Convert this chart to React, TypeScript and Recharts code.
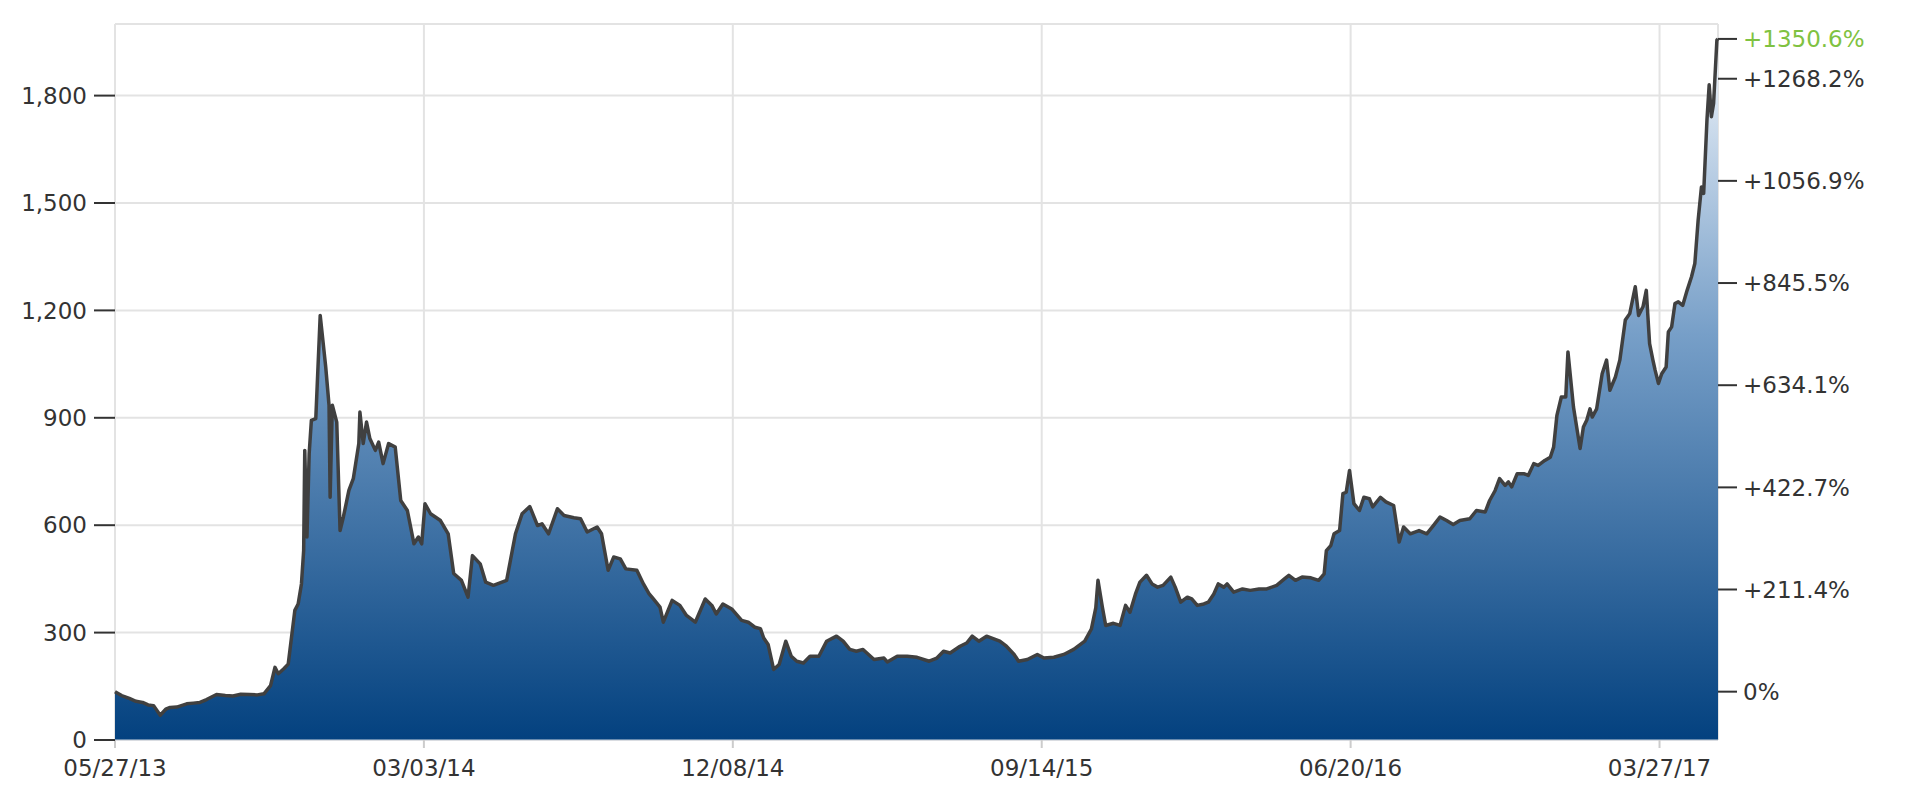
import React from "react";
import { ComposedChart, Area, Line, XAxis, YAxis, CartesianGrid } from "recharts";

const xTickDays = [0, 280, 560, 840, 1120, 1400];
const xTickLabels = ["05/27/13", "03/03/14", "12/08/14", "09/14/15", "06/20/16", "03/27/17"];
const priceTicks = [0, 300, 600, 900, 1200, 1500, 1800];
const pctTicks = [0, 211.4, 422.7, 634.1, 845.5, 1056.9, 1268.2, 1350.6];
const priceMax = 2000;
const lastDay = 1453;

const dayOffsets = [
  0, 6, 13, 19, 25, 30, 35, 41, 46, 50,
  56, 65, 71, 77, 83, 92, 100, 107, 114, 122,
  129, 135, 141, 145, 148, 153, 157, 160, 163, 166,
  169, 171, 172, 174, 176, 178, 182, 186, 191, 194,
  195, 197, 201, 204, 207, 212, 216, 221, 222, 225,
  228, 231, 236, 239, 243, 248, 254, 259, 265, 271,
  275, 278, 281, 286, 295, 302, 307, 314, 320, 324,
  331, 336, 343, 355, 363, 369, 376, 383, 387, 393,
  401, 407, 416, 422, 428, 437, 441, 447, 452, 458,
  463, 473, 479, 484, 488, 494, 497, 505, 512, 518,
  526, 535, 541, 545, 551, 559, 568, 574, 580, 585,
  588, 592, 597, 602, 608, 613, 618, 624, 630, 638,
  645, 654, 660, 666, 672, 678, 688, 697, 700, 709,
  718, 727, 738, 745, 751, 757, 766, 772, 777, 783,
  790, 796, 802, 808, 815, 819, 827, 836, 842, 851,
  860, 869, 879, 885, 889, 891, 895, 898, 905, 911,
  916, 920, 925, 929, 935, 940, 945, 950, 957, 961,
  966, 972, 976, 981, 987, 991, 996, 1000, 1005, 1008,
  1014, 1022, 1029, 1037, 1044, 1053, 1060, 1064, 1070, 1076,
  1084, 1091, 1096, 1098, 1102, 1105, 1110, 1113, 1116, 1119,
  1123, 1128, 1132, 1137, 1140, 1147, 1152, 1159, 1164, 1168,
  1174, 1182, 1189, 1195, 1201, 1207, 1213, 1219, 1228, 1234,
  1242, 1246, 1251, 1255, 1260, 1263, 1266, 1271, 1277, 1281,
  1286, 1290, 1296, 1301, 1304, 1307, 1311, 1315, 1317, 1322,
  1328, 1331, 1334, 1337, 1339, 1343, 1348, 1352, 1355, 1360,
  1364, 1369, 1373, 1378, 1381, 1385, 1388, 1391, 1394, 1396,
  1399, 1402, 1406, 1408, 1411, 1414, 1417, 1421, 1425, 1429,
  1432, 1435, 1438, 1440, 1443, 1445, 1447, 1449, 1452, 1453,
];

const closePrices = [
  135, 124, 116, 108, 105, 98, 96, 69, 86, 91,
  92, 101, 103, 105, 113, 127, 124, 123, 128, 127,
  126, 129, 152, 203, 185, 199, 212, 287, 362, 380,
  436, 529, 809, 567, 800, 893, 898, 1186, 1042, 935,
  678, 935, 888, 585, 623, 697, 730, 828, 916, 828,
  888, 842, 809, 832, 772, 828, 818, 669, 641, 548,
  567, 548, 660, 632, 613, 576, 465, 446, 399, 515,
  492, 441, 432, 446, 576, 632, 652, 599, 604, 576,
  646, 627, 621, 618, 581, 595, 576, 474, 511, 506,
  478, 474, 436, 409, 394, 371, 329, 390, 376, 348,
  329, 394, 376, 352, 380, 366, 334, 329, 315, 311,
  285, 267, 197, 211, 276, 234, 220, 215, 234, 234,
  276, 290, 276, 253, 248, 253, 225, 229, 218, 234,
  234, 231, 220, 229, 248, 243, 262, 271, 290, 276,
  290, 283, 276, 262, 239, 220, 225, 239, 229, 231,
  239, 253, 276, 310, 369, 446, 371, 320, 326, 320,
  376, 357, 408, 441, 460, 436, 427, 432, 455, 427,
  385, 399, 394, 376, 380, 385, 408, 436, 427, 436,
  413, 422, 418, 422, 422, 432, 450, 460, 446, 455,
  453, 446, 464, 529, 543, 576, 585, 688, 692, 753,
  660, 641, 678, 674, 651, 678, 665, 655, 553, 595,
  576, 585, 576, 599, 623, 613, 602, 613, 618, 641,
  637, 669, 697, 730, 711, 721, 707, 744, 744, 739,
  772, 767, 781, 790, 818, 907, 958, 958, 1084, 930,
  814, 874, 893, 925, 902, 925, 1023, 1061, 977, 1014,
  1061, 1173, 1191, 1266, 1186, 1210, 1256, 1107, 1061, 1033,
  996, 1023, 1042, 1140, 1154, 1219, 1224, 1214, 1256, 1294,
  1331, 1452, 1545, 1527, 1732, 1830, 1741, 1778, 1955, 1958,
];

const basePrice = closePrices[0];
const data = dayOffsets.map((d, i) => ({
  day: d,
  price: closePrices[i],
  pct: (closePrices[i] / basePrice - 1) * 100,
}));
const pctDomain: [number, number] = [-100, (priceMax / basePrice - 1) * 100];

const FONT = "'DejaVu Sans', Verdana, sans-serif";
const TEXT = "#333333";

function PctTick(props: any) {
  const { x, y, payload } = props;
  const v = payload.value as number;
  const isLast = v === pctTicks[pctTicks.length - 1];
  return (
    <text
      x={x}
      y={y}
      dy="0.355em"
      textAnchor="start"
      fontFamily={FONT}
      fontSize={23}
      fill={isLast ? "#7fc241" : TEXT}
    >
      {v === 0 ? "0%" : `+${v.toFixed(1)}%`}
    </text>
  );
}

export default function App() {
  return (
    <div style={{ position: "absolute", left: 0, top: 0, width: 1910, height: 800, background: "#fff" }}>
      <ComposedChart
        width={1910}
        height={800}
        data={data}
        margin={{ top: 24, right: 42, bottom: 10, left: 15 }}
      >
        <defs>
          <linearGradient id="btcFill" x1="0" y1="0" x2="0" y2="1">
            <stop offset="0%" stopColor="#f3f7fb" />
            <stop offset="12%" stopColor="#cddcec" />
            <stop offset="42%" stopColor="#779fc8" />
            <stop offset="100%" stopColor="#03417f" />
          </linearGradient>
        </defs>
        <CartesianGrid yAxisId="left" stroke="#e3e3e3" strokeWidth={2} />
        <XAxis
          dataKey="day"
          type="number"
          domain={[0, lastDay]}
          ticks={xTickDays}
          interval={0}
          height={50}
          tickSize={8}
          tickMargin={12}
          tickLine={{ stroke: "#cccccc", strokeWidth: 2 }}
          axisLine={{ stroke: "#cfd6df", strokeWidth: 1 }}
          tickFormatter={(v: number) => xTickLabels[xTickDays.indexOf(v)] ?? ""}
          tick={{ fill: TEXT, fontSize: 23, fontFamily: FONT }}
        />
        <YAxis
          yAxisId="left"
          orientation="left"
          type="number"
          domain={[0, priceMax]}
          ticks={priceTicks}
          interval={0}
          width={100}
          tickSize={21}
          tickMargin={7}
          axisLine={false}
          tickLine={{ stroke: "#333333", strokeWidth: 2 }}
          tickFormatter={(v: number) => v.toLocaleString("en-US")}
          tick={{ fill: TEXT, fontSize: 23, fontFamily: FONT }}
        />
        <YAxis
          yAxisId="pct"
          orientation="right"
          type="number"
          domain={pctDomain}
          allowDataOverflow
          ticks={pctTicks}
          interval={0}
          width={150}
          tickSize={19}
          tickMargin={6}
          axisLine={false}
          tickLine={{ stroke: "#333333", strokeWidth: 2 }}
          tick={<PctTick />}
        />
        <Area
          yAxisId="left"
          type="linear"
          dataKey="price"
          stroke="#404040"
          strokeWidth={3.5}
          strokeLinejoin="round"
          fill="url(#btcFill)"
          fillOpacity={1}
          dot={false}
          activeDot={false}
          isAnimationActive={false}
        />
        <Line
          yAxisId="pct"
          type="linear"
          dataKey="pct"
          stroke="none"
          dot={false}
          activeDot={false}
          legendType="none"
          isAnimationActive={false}
        />
      </ComposedChart>
    </div>
  );
}
